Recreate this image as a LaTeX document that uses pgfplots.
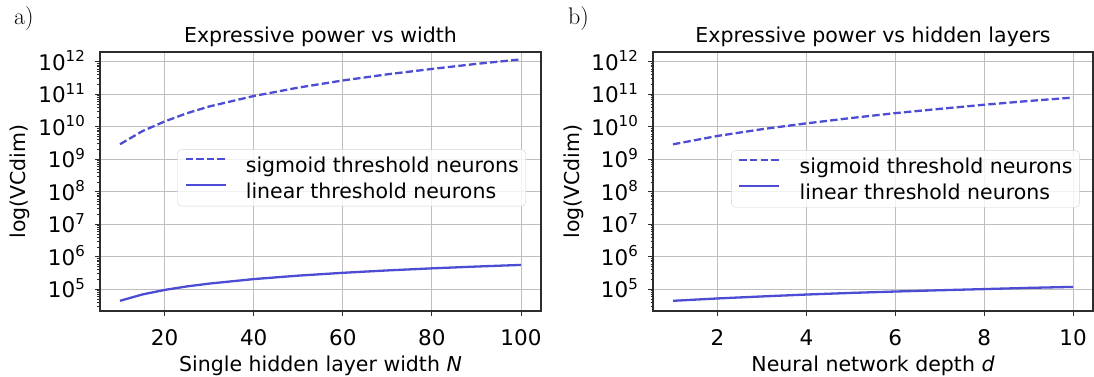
\documentclass[border=0pt]{standalone}
\usepackage{fontspec}
\newfontfamily\djv{DejaVu Sans}
\usepackage{pgfplots}
\pgfplotsset{compat=1.18}
\definecolor{curve}{RGB}{76,76,212}
\definecolor{gridc}{RGB}{190,190,190}
\definecolor{spine}{RGB}{45,45,45}
\definecolor{legbox}{RGB}{212,212,212}
\newcommand\sups[1]{\raisebox{8.5pt}{\fontsize{15}{15}\selectfont #1}}
\pgfplotsset{
  every axis/.append style={
    scale only axis, height=259pt,
    /pgf/number format/assume math mode=true,
    ymin=2.138e4, ymax=1.995e12,
    ytick={1e5,1e6,1e7,1e8,1e9,1e10,1e11,1e12},
    yticklabels={10\sups{5},10\sups{6},10\sups{7},10\sups{8},10\sups{9},10\sups{10},10\sups{11},10\sups{12}},
    minor ytick={3e4,4e4,5e4,6e4,7e4,8e4,9e4,
      2e5,3e5,4e5,5e5,6e5,7e5,8e5,9e5,
      2e6,3e6,4e6,5e6,6e6,7e6,8e6,9e6,
      2e7,3e7,4e7,5e7,6e7,7e7,8e7,9e7,
      2e8,3e8,4e8,5e8,6e8,7e8,8e8,9e8,
      2e9,3e9,4e9,5e9,6e9,7e9,8e9,9e9,
      2e10,3e10,4e10,5e10,6e10,7e10,8e10,9e10,
      2e11,3e11,4e11,5e11,6e11,7e11,8e11,9e11},
    grid=major,
    major grid style={draw=gridc, line width=0.9pt},
    axis line style={draw=spine, line width=1.1pt},
    tick align=outside, tick pos=left,
    major tick length=5pt, minor tick length=2.5pt,
    major tick style={draw=spine, line width=0.9pt},
    minor tick style={draw=spine, line width=0.6pt},
    tick label style={font=\djv\fontsize{21.5}{24}\selectfont, inner sep=0pt},
    xticklabel style={anchor=base, yshift=-29.5pt},
    yticklabel style={anchor=base east, xshift=-10pt, yshift=-8.5pt},
    label style={font=\djv\fontsize{20.5}{24}\selectfont, inner sep=0pt},
    title style={font=\djv\fontsize{20.5}{24}\selectfont, inner sep=0pt, at={(axis description cs:0.5,1)}, anchor=base, yshift=3pt},
    xlabel style={at={(axis description cs:0.5,0)}, anchor=base, yshift=-60pt},
    legend style={draw=legbox, rounded corners=4pt, fill=white, fill opacity=0.8, text opacity=1,
      font=\djv\fontsize{20.5}{24}\selectfont, inner xsep=7pt, inner ysep=6pt,
      nodes={inner sep=0pt}, row sep=8pt, column sep=19pt, anchor=north east},
    legend cell align=left,
  },
}
\begin{document}
\begin{tikzpicture}[x=1pt,y=1pt]
\path[use as bounding box] (0,0) rectangle (1094,376);
\node[anchor=base west, inner sep=0pt, font=\fontsize{24}{28}\selectfont] at (14,352) {a)};
\node[anchor=base west, inner sep=0pt, font=\fontsize{24}{28}\selectfont] at (568,352) {b)};
\begin{semilogyaxis}[at={(100pt,65pt)}, anchor=south west, width=441pt,
  xmin=5.5, xmax=104.5, xtick={20,40,60,80,100},
  title={Expressive power vs width},
  xlabel={Single hidden layer width {\itshape N}},
  ylabel={log(VCdim)},
  ylabel style={at={(axis description cs:-0.1825,0.5)}, anchor=center},
  legend style={at={(axis description cs:0.966,0.624)}},
  legend image code/.code={\draw[#1] (0pt,6pt) -- (40pt,6pt);}]
\addplot[draw=curve, line width=2.3pt, dash pattern=on 7.4pt off 3.2pt] coordinates {(10,2.9e9) (15,7.3e9) (20,1.45e10) (25,2.6e10) (30,4.2e10) (40,8.8e10) (50,1.6e11) (60,2.65e11) (70,4.1e11) (80,6.0e11) (90,8.6e11) (100,1.18e12)};
\addlegendentry{\strut sigmoid threshold neurons}
\addplot[draw=curve, line width=2.3pt] coordinates {(10,4.4e4) (15,6.9e4) (20,9.5e4) (25,1.22e5) (30,1.49e5) (40,2.05e5) (50,2.62e5) (60,3.2e5) (70,3.79e5) (80,4.39e5) (90,4.99e5) (100,5.6e5)};
\addlegendentry{\strut linear threshold neurons}
\end{semilogyaxis}
\begin{semilogyaxis}[at={(653pt,65pt)}, anchor=south west, width=440pt,
  xmin=0.55, xmax=10.45, xtick={2,4,6,8,10},
  title={Expressive power vs hidden layers},
  xlabel={Neural network depth {\itshape d}},
  ylabel={log(VCdim)},
  ylabel style={at={(axis description cs:-0.1795,0.5)}, anchor=center},
  legend style={at={(axis description cs:0.970,0.620)}},
  legend image code/.code={\draw[#1] (0pt,6pt) -- (40pt,6pt);}]
\addplot[draw=curve, line width=2.3pt, dash pattern=on 7.4pt off 3.2pt] coordinates {(1,2.88e9) (2,5.2e9) (3,8.4e9) (4,1.27e10) (5,1.85e10) (6,2.62e10) (7,3.55e10) (8,4.75e10) (9,6.2e10) (10,7.9e10)};
\addlegendentry{\strut sigmoid threshold neurons}
\addplot[draw=curve, line width=2.3pt] coordinates {(1,4.4e4) (2,5.2e4) (3,6.0e4) (4,6.86e4) (5,7.7e4) (6,8.5e4) (7,9.3e4) (8,1.01e5) (9,1.10e5) (10,1.18e5)};
\addlegendentry{\strut linear threshold neurons}
\end{semilogyaxis}
\end{tikzpicture}
\end{document}
